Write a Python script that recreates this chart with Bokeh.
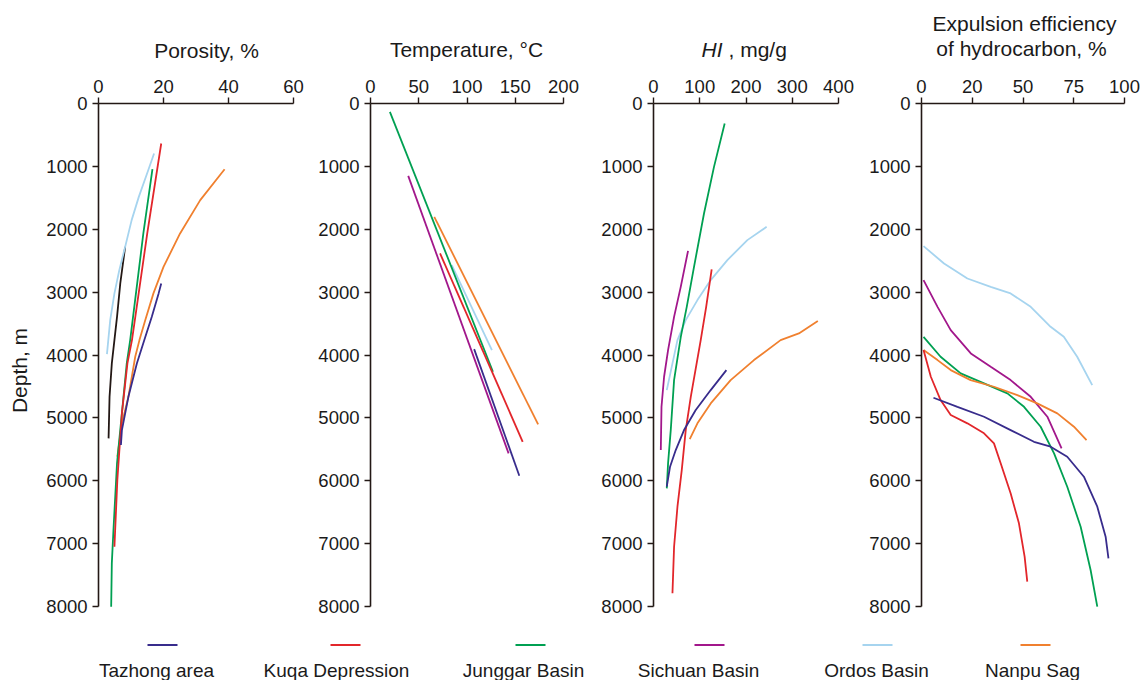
import math
from bokeh.plotting import figure
from bokeh.layouts import column, row
from bokeh.models import Range1d, FixedTicker
from bokeh.embed import file_html
from bokeh.resources import INLINE
from bokeh.core.properties import value

FONT = "Liberation Sans"
INK = "#231815"
TEXT_C = "#1a1a1a"

# ---------------- data ----------------
series_names = ["Tazhong area", "Kuqa Depression", "Junggar Basin",
                "Sichuan Basin", "Ordos Basin", "Nanpu Sag"]
series_colors = ["#382c8c", "#e2262b", "#00a052", "#a2178b", "#a6d4ef", "#f0802f"]
unlabeled_color = "#231815"

depth_ticks = [0, 1000, 2000, 3000, 4000, 5000, 6000, 7000, 8000]
por_ticks = [0, 20, 40, 60]
temp_ticks = [0, 50, 100, 150, 200]
hi_ticks = [0, 100, 200, 300, 400]
eff_ticks = [0, 25, 50, 75, 100]
eff_tick_labels = ["0", "20", "50", "75", "100"]

# Porosity, %
por_tazhong_depth = [2862, 3020, 3393, 3763, 4134, 4665, 5194, 5432]
por_tazhong = [19.3, 18.5, 16.4, 14.1, 11.8, 9.2, 7.2, 6.9]
por_kuqa_depth = [636, 2067, 3763, 4134, 4929, 5989, 7049]
por_kuqa = [19.3, 15.0, 10.3, 8.9, 7.2, 5.8, 4.9]
por_junggar_depth = [1045, 2067, 3763, 4130, 4925, 5720, 6783, 7310, 8003]
por_junggar = [16.6, 13.8, 9.75, 8.7, 7.2, 5.7, 4.6, 4.1, 3.9]
por_ordos_depth = [795, 1062, 1485, 1855, 2280, 2650, 3020, 3445, 3986]
por_ordos = [17.1, 15.3, 12.4, 10.2, 8.2, 6.4, 4.9, 3.6, 2.6]
por_nanpu_depth = [1045, 1537, 2067, 2598, 3020, 3445, 3763, 4028, 4665, 5087, 5618]
por_nanpu = [38.8, 31.3, 25.1, 20.0, 16.9, 14.4, 12.6, 11.3, 9.2, 7.2, 5.8]
por_unlabeled_depth = [2280, 2862, 3393, 3763, 4134, 4664, 5326]
por_unlabeled = [8.2, 6.7, 5.7, 4.9, 4.1, 3.4, 3.1]

# Temperature, degC
temp_tazhong_depth = [3906, 5920]
temp_tazhong = [107.4, 154.2]
temp_kuqa_depth = [2385, 5380]
temp_kuqa = [72.1, 157.7]
temp_junggar_depth = [133, 4267]
temp_junggar = [20.1, 126.9]
temp_sichuan_depth = [1151, 5565]
temp_sichuan = [39.1, 143.1]
temp_ordos_depth = [2571, 3922]
temp_ordos = [84.2, 125.8]
temp_nanpu_depth = [1803, 5103]
temp_nanpu = [66.1, 173.7]

# HI, mg/g
hi_tazhong_depth = [4240, 4558, 4876, 5194, 5512, 5777, 6095]
hi_tazhong = [157.6, 123.7, 91.3, 66.0, 48.1, 35.8, 28.7]
hi_kuqa_depth = [2639, 3234, 3763, 4665, 5194, 5830, 6413, 7049, 7790]
hi_kuqa = [125.8, 113.9, 102.1, 80.6, 69.7, 61.1, 51.8, 44.5, 41.0]
hi_junggar_depth = [318, 1008, 1749, 2598, 3234, 3711, 4399, 5194, 5724, 6121]
hi_junggar = [153.9, 130.8, 109.2, 87.6, 71.9, 59.0, 44.5, 37.3, 31.5, 28.7]
hi_sichuan_depth = [2343, 2916, 3393, 3922, 4346, 4823, 5512]
hi_sichuan = [74.7, 58.9, 44.5, 31.5, 22.9, 17.3, 15.8]
hi_ordos_depth = [1962, 2173, 2491, 2809, 3127, 3445, 3763, 4134, 4558]
hi_ordos = [244.6, 202.9, 159.7, 123.7, 95.0, 69.7, 51.8, 41.0, 28.7]
hi_nanpu_depth = [3461, 3657, 3763, 4081, 4399, 4770, 5087, 5337]
hi_nanpu = [355.3, 314.3, 274.8, 217.2, 166.8, 123.7, 95.0, 78.4]

# Expulsion efficiency of hydrocarbon, % (axis units)
eff_tazhong_depth = [4680, 4824, 4982, 5194, 5380, 5459, 5618, 5936, 6413, 6890, 7234]
eff_tazhong = [5.9, 17.7, 30.8, 43.9, 55.4, 63.6, 71.8, 80.0, 86.6, 90.7, 92.1]
eff_kuqa_depth = [3922, 4346, 4717, 4955, 5087, 5246, 5405, 5723, 6200, 6677, 7207, 7605]
eff_kuqa = [1.0, 4.6, 9.4, 14.4, 22.6, 30.8, 35.7, 39.0, 43.9, 48.0, 50.8, 52.1]
eff_junggar_depth = [3711, 4028, 4293, 4452, 4610, 4824, 5141, 5564, 6095, 6731, 7420, 8003]
eff_junggar = [1.0, 9.4, 19.3, 30.8, 42.3, 50.5, 58.7, 65.3, 71.8, 78.4, 83.3, 86.6]
eff_sichuan_depth = [2809, 3234, 3604, 3975, 4188, 4399, 4665, 4982, 5485]
eff_sichuan = [1.0, 7.9, 14.4, 24.3, 34.1, 43.9, 53.8, 62.0, 69.0]
eff_ordos_depth = [2269, 2544, 2783, 2915, 3020, 3234, 3552, 3711, 4028, 4478]
eff_ordos = [1.0, 11.1, 22.6, 34.1, 43.9, 53.8, 63.6, 70.1, 76.7, 84.1]
eff_nanpu_depth = [3922, 4081, 4240, 4399, 4505, 4638, 4770, 4928, 5141, 5353]
eff_nanpu = [1.0, 7.9, 14.4, 24.2, 35.7, 47.2, 57.0, 66.9, 75.1, 81.3]

# ---------------- layout ----------------
FIG_H = 620
FRAME_TOP = 103
FRAME_H = 503
DEPTH_MAX = 8000
TICK_FS = "18.5px"
TITLE_FS = "21px"
LINE_W = 1.8

# (fig x offset, axis-origin offset in fig, plotted width, right margin, x max)
panels_geom = [
    (0, 98, 195, 17, 60),
    (310, 60, 193, 17, 200),
    (580, 73, 185, 17, 400),
    (855, 66, 203, 18, 100),
]


def to_data(i, px, py):
    x0, bl, fw, br, xmax = panels_geom[i]
    return (px - x0 - bl) / fw * xmax, (py - FRAME_TOP) / FRAME_H * DEPTH_MAX


def make_panel(i, ticks, curves, tick_overrides=None):
    x0, bl, fw, br, xmax = panels_geom[i]
    width = bl + fw + br
    x_lo, _ = to_data(i, x0, 0)
    x_hi, _ = to_data(i, x0 + width, 0)
    _, y_top = to_data(i, 0, 0)
    _, y_bot = to_data(i, 0, FIG_H)
    p = figure(width=width, height=FIG_H,
               x_range=Range1d(x_lo, x_hi), y_range=Range1d(y_bot, y_top),
               x_axis_location="above", y_axis_location="left",
               min_border=0, toolbar_location=None, output_backend="svg")
    p.outline_line_color = None
    p.xgrid.visible = False
    p.ygrid.visible = False
    p.background_fill_color = "white"
    p.border_fill_color = "white"
    for ax in (p.xaxis[0], p.yaxis[0]):
        ax.fixed_location = 0
        ax.axis_line_color = INK
        ax.axis_line_width = 1.6
        ax.major_tick_line_color = INK
        ax.major_tick_line_width = 1.4
        ax.major_tick_out = 6
        ax.major_tick_in = 0
        ax.minor_tick_line_color = None
        ax.major_label_text_font = FONT
        ax.major_label_text_font_size = TICK_FS
        ax.major_label_text_color = TEXT_C
        ax.major_label_standoff = 5
    p.xaxis.bounds = (0, xmax)
    p.yaxis.bounds = (0, DEPTH_MAX)
    p.xaxis.ticker = FixedTicker(ticks=ticks)
    p.yaxis.ticker = FixedTicker(ticks=depth_ticks)
    if tick_overrides:
        p.xaxis.major_label_overrides = tick_overrides
    for xs, ds, col in curves:
        p.line(xs, ds, line_color=col, line_width=LINE_W)
    return p


def add_text(p, i, px, py, text, align="center", style="normal", angle=0.0):
    x, y = to_data(i, px, py)
    p.text(x=[x], y=[y], text=[text], text_align=align, text_baseline="middle",
           text_font=value(FONT), text_font_size=TITLE_FS, text_font_style=style,
           text_color=TEXT_C, angle=angle)


c = series_colors
p1 = make_panel(0, por_ticks, [
    (por_unlabeled, por_unlabeled_depth, unlabeled_color),
    (por_ordos, por_ordos_depth, c[4]),
    (por_nanpu, por_nanpu_depth, c[5]),
    (por_junggar, por_junggar_depth, c[2]),
    (por_kuqa, por_kuqa_depth, c[1]),
    (por_tazhong, por_tazhong_depth, c[0]),
])
add_text(p1, 0, 206, 50, "Porosity, %")
add_text(p1, 0, 19, 370, "Depth, m", angle=math.pi / 2)

p2 = make_panel(1, temp_ticks, [
    (temp_nanpu, temp_nanpu_depth, c[5]),
    (temp_ordos, temp_ordos_depth, c[4]),
    (temp_junggar, temp_junggar_depth, c[2]),
    (temp_kuqa, temp_kuqa_depth, c[1]),
    (temp_sichuan, temp_sichuan_depth, c[3]),
    (temp_tazhong, temp_tazhong_depth, c[0]),
])
add_text(p2, 1, 466, 49, "Temperature, °C")

p3 = make_panel(2, hi_ticks, [
    (hi_ordos, hi_ordos_depth, c[4]),
    (hi_nanpu, hi_nanpu_depth, c[5]),
    (hi_sichuan, hi_sichuan_depth, c[3]),
    (hi_junggar, hi_junggar_depth, c[2]),
    (hi_kuqa, hi_kuqa_depth, c[1]),
    (hi_tazhong, hi_tazhong_depth, c[0]),
])
add_text(p3, 2, 722, 49, "HI", align="right", style="italic")
add_text(p3, 2, 728, 49, ", mg/g", align="left")

p4 = make_panel(3, eff_ticks, [
    (eff_ordos, eff_ordos_depth, c[4]),
    (eff_sichuan, eff_sichuan_depth, c[3]),
    (eff_junggar, eff_junggar_depth, c[2]),
    (eff_nanpu, eff_nanpu_depth, c[5]),
    (eff_kuqa, eff_kuqa_depth, c[1]),
    (eff_tazhong, eff_tazhong_depth, c[0]),
], tick_overrides={t: l for t, l in zip(eff_ticks, eff_tick_labels)})
add_text(p4, 3, 1024, 23, "Expulsion efficiency")
add_text(p4, 3, 1021, 48, "of hydrocarbon, %")

# ---------------- legend strip ----------------
legend_line_x = [147, 330, 515, 694, 862, 1020]
legend_text_x = [156, 336, 523, 698, 876, 1032]
LEG_LINE_LEN = 30
LEG_H = 60
leg = figure(width=1142, height=LEG_H, x_range=Range1d(0, 1142), y_range=Range1d(LEG_H, 0),
             min_border=0, toolbar_location=None, output_backend="svg")
leg.axis.visible = False
leg.grid.visible = False
leg.outline_line_color = None
leg.background_fill_color = "white"
leg.border_fill_color = "white"
leg.segment(x0=legend_line_x, y0=[24.5] * 6,
            x1=[v + LEG_LINE_LEN for v in legend_line_x], y1=[24.5] * 6,
            line_color=series_colors, line_width=2)
leg.text(x=legend_text_x, y=[50] * 6, text=series_names, text_align="center",
         text_baseline="middle", text_font=value(FONT), text_font_size="19px",
         text_color=TEXT_C)

layout = column(row(p1, p2, p3, p4, spacing=0), leg, spacing=0)
open("out.html", "w").write(file_html(layout, INLINE))
